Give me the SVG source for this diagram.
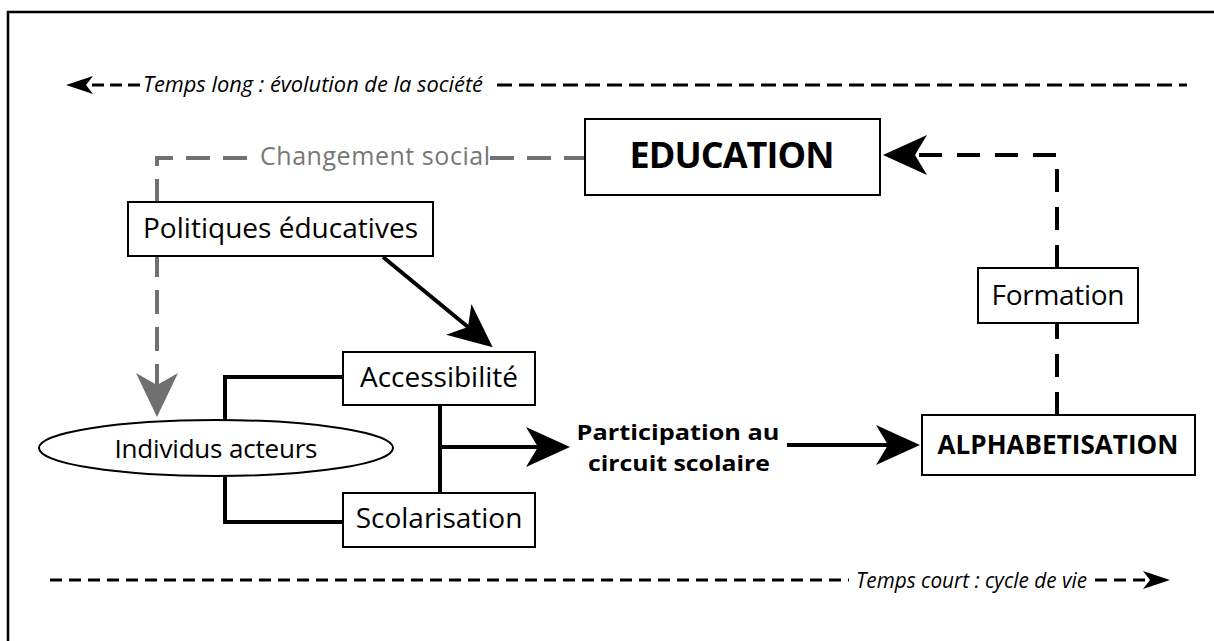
<svg xmlns="http://www.w3.org/2000/svg" width="1214" height="641" viewBox="0 0 1214 641">
<style>
.box{fill:#fff;stroke:#000;stroke-width:2}
.t{font-family:"Open Sans","Liberation Sans",sans-serif;font-size:28px;fill:#000;text-anchor:middle}
.b{font-weight:bold}
.it{font-family:"Open Sans","Liberation Sans",sans-serif;font-style:italic;font-size:21px;fill:#000}
.solid{fill:none;stroke:#000;stroke-width:4}
.bd{fill:none;stroke:#000;stroke-width:4;stroke-dasharray:23 15}
.gd{fill:none;stroke:#707070;stroke-width:4;stroke-dasharray:24 13}
.td{fill:none;stroke:#000;stroke-width:3;stroke-dasharray:15 7}
</style>
<defs>
<marker id="ah" markerUnits="userSpaceOnUse" orient="auto" refX="0" refY="0" markerWidth="1" markerHeight="1" overflow="visible"><path d="M32,0 L-12,-20 L0,0 L-12,20 Z" fill="#000"/></marker>
<marker id="ahg" markerUnits="userSpaceOnUse" orient="auto" refX="0" refY="0" markerWidth="1" markerHeight="1" overflow="visible"><path d="M32,0 L-12,-21 L0,0 L-12,21 Z" fill="#707070"/></marker>
<marker id="ahs" markerUnits="userSpaceOnUse" orient="auto" refX="0" refY="0" markerWidth="1" markerHeight="1" overflow="visible"><path d="M20,0 L-7,-9 L0,0 L-7,9 Z" fill="#000"/></marker>
</defs>
<rect width="1214" height="641" fill="#fff"/>
<path d="M8,641 V12 H1214" fill="none" stroke="#000" stroke-width="2.5"/>

<g id="timeline-long">
<path class="td" d="M140,85 H86" style="stroke-dasharray:12 6" marker-end="url(#ahs)"/>
<text class="it" x="143" y="92" textLength="340" lengthAdjust="spacingAndGlyphs">Temps long : évolution de la société</text>
<path class="td" d="M497,85 H1187"/>
</g>

<g id="timeline-court">
<path class="td" d="M50,580 H849" style="stroke-dasharray:12 7"/>
<text class="it" x="856" y="588" textLength="231" lengthAdjust="spacingAndGlyphs">Temps court : cycle de vie</text>
<path class="td" d="M1095,580 H1150" style="stroke-dasharray:12 7" marker-end="url(#ahs)"/>
</g>

<g id="connectors">
<path class="gd" d="M247,158 H157 V385" marker-end="url(#ahg)"/>
<path class="gd" d="M490,158 H585"/>
<path class="bd" d="M1057,268 V155 H915" marker-end="url(#ah)"/>
<path class="bd" d="M1057,415 V323"/>
<path class="solid" d="M383,257 L468,327" marker-end="url(#ah)"/>
<path class="solid" d="M343,377 H225 V420 M225,477 V522 H343"/>
<path class="solid" d="M440,405 V493 M440,447 H538" marker-end="url(#ah)"/>
<path class="solid" d="M787,445 H888" marker-end="url(#ah)"/>
</g>

<g id="changement-social">
<text class="t" x="375" y="165" style="fill:#777;font-size:25px" textLength="230">Changement social</text>
</g>

<g id="education">
<rect class="box" x="585" y="119" width="295" height="76"/>
<text class="t b" x="732" y="168" style="font-size:36px" textLength="205">EDUCATION</text>
</g>

<g id="politiques">
<rect class="box" x="128" y="202" width="305" height="54"/>
<text class="t" x="280.5" y="238" textLength="275">Politiques éducatives</text>
</g>

<g id="formation">
<rect class="box" x="978" y="268" width="160" height="55"/>
<text class="t" x="1058" y="305" textLength="133">Formation</text>
</g>

<g id="accessibilite">
<rect class="box" x="343" y="352" width="192" height="53"/>
<text class="t" x="439" y="387">Accessibilité</text>
</g>

<g id="scolarisation">
<rect class="box" x="343" y="493" width="192" height="54"/>
<text class="t" x="439" y="528">Scolarisation</text>
</g>

<g id="individus">
<ellipse cx="216" cy="448" rx="177" ry="28" fill="#fff" stroke="#000" stroke-width="2"/>
<text class="t" x="216" y="458" style="font-size:26px" textLength="203">Individus acteurs</text>
</g>

<g id="participation">
<text class="t b" x="678" y="440" style="font-size:22px" textLength="203" lengthAdjust="spacingAndGlyphs">Participation au</text>
<text class="t b" x="679" y="471" style="font-size:22px" textLength="182" lengthAdjust="spacingAndGlyphs">circuit scolaire</text>
</g>

<g id="alphabetisation">
<rect class="box" x="922" y="415" width="273" height="60"/>
<text class="t b" x="1058" y="454" style="font-size:26px" textLength="241">ALPHABETISATION</text>
</g>
</svg>
